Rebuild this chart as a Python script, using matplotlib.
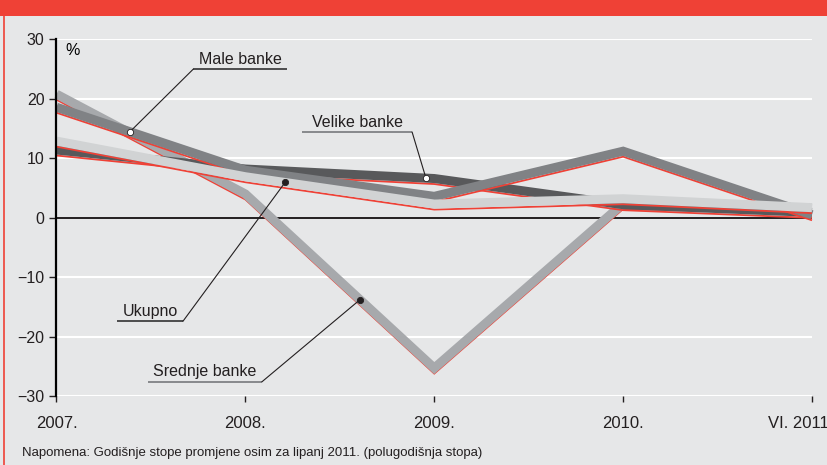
import numpy as np
import matplotlib.pyplot as plt
from matplotlib import transforms
from matplotlib.patches import Rectangle
from matplotlib.lines import Line2D

plt.rcParams['font.family'] = ['Liberation Sans', 'DejaVu Sans']

# growth rates, %; last point is June 2011 (half-year rate)
periods = ['2007.', '2008.', '2009.', '2010.', 'VI. 2011']
velike = [11.4, 8.2, 6.6, 2.2, 0.9]
male = [18.6, 8.0, 3.6, 11.2, 0.5]
srednje = [20.8, 4.0, -25.3, 2.4, 1.6]
ukupno = [12.9, 6.9, 2.3, 3.2, 1.7]

bg = '#e6e7e8'
red = '#ef4136'

fig = plt.figure(figsize=(8.28, 4.65), dpi=100)
fig.patch.set_facecolor(bg)

# red header strip and left frame line
fig.patches.append(Rectangle((0, 1 - 16 / 465), 1, 16 / 465, transform=fig.transFigure,
                             facecolor=red, edgecolor='none'))
fig.lines.append(Line2D([4.5 / 828, 4.5 / 828], [0, 1 - 16 / 465], transform=fig.transFigure,
                        color=red, lw=1.2))

ax = fig.add_axes([56.5 / 828, 1 - 396 / 465, (812 - 56.5) / 828, (396 - 39.5) / 465])
ax.set_facecolor(bg)
x = np.arange(len(periods))
ax.set_xlim(0, 4)
ax.set_ylim(-30, 30)

for v in [30, 20, 10, -10, -20, -30]:
    ax.axhline(v, color='white', lw=1.5, zorder=0.5)
ax.axhline(0, color='#231f20', lw=1.4, zorder=1)

# each series: thick grey band with a thin red edge just below it
red_trans = transforms.offset_copy(ax.transData, fig=fig, x=0, y=-5.5, units='dots')
series = [(srednje, '#a7a9ac'), (velike, '#58595b'), (male, '#808285'), (ukupno, '#d1d3d4')]
for i, (vals, col) in enumerate(series):
    z = 2 + i
    ax.plot(x, vals, color=red, lw=1.3, transform=red_trans, zorder=z,
            solid_joinstyle='miter', solid_capstyle='butt', clip_on=False)
    ax.plot(x, vals, color=col, lw=6.5, zorder=z + 0.5,
            solid_joinstyle='miter', solid_capstyle='butt', clip_on=False)

for s in ['top', 'right', 'bottom']:
    ax.spines[s].set_visible(False)
ax.spines['left'].set_linewidth(1.6)
ax.spines['left'].set_zorder(10)

ax.set_yticks([30, 20, 10, 0, -10, -20, -30])
ax.set_xticks(x)
ax.set_xticklabels(periods)
ax.tick_params(axis='y', direction='out', length=5, width=1, pad=3.6, labelsize=11.5, colors='#231f20')
ax.tick_params(axis='x', direction='out', length=4.5, width=1, pad=10, labelsize=12, colors='#231f20')
last = ax.get_xticklabels()[-1]
last.set_transform(last.get_transform() + transforms.ScaledTranslation(-0.14, 0, fig.dpi_scale_trans))

ax.text(0.0113, 0.990, '%', transform=ax.transAxes, ha='left', va='top', fontsize=11.5)

# labels with leader lines pointing at a dot on the series
labels = [
    ('Male banke', male, 0.389, 'white', (0.723, 1.220), 24.98, '#404041'),
    ('Velike banke', velike, 1.956, 'white', (1.300, 1.883), 14.4, '#808285'),
    ('Ukupno', ukupno, 1.210, '#231f20', (0.321, 0.670), -17.4, '#404041'),
    ('Srednje banke', srednje, 1.607, '#231f20', (0.485, 1.088), -27.6, '#808285'),
]
for text, vals, xd, dot, (u0, u1), uy, ucol in labels:
    yd = np.interp(xd, x, vals)
    ax.plot([u0, u1], [uy, uy], color=ucol, lw=1.3, zorder=8, solid_capstyle='butt')
    elbow = u0 if xd < u0 else u1
    ax.plot([elbow, xd], [uy, yd], color='#231f20', lw=0.8, zorder=8)
    ax.plot([xd], [yd], 'o', ms=4.5, mfc=dot, mec='#231f20', mew=0.6, zorder=9)
    ax.text((u0 + u1) / 2, uy + 0.9, text, ha='center', va='baseline', fontsize=11.5,
            color='#231f20', zorder=9)

fig.text(22 / 828, 1 - 453 / 465,
         'Napomena: Godišnje stope promjene osim za lipanj 2011. (polugodišnja stopa)',
         ha='left', va='center', fontsize=9.5, color='#231f20')

fig.savefig('out.png', dpi=100, facecolor=bg)
